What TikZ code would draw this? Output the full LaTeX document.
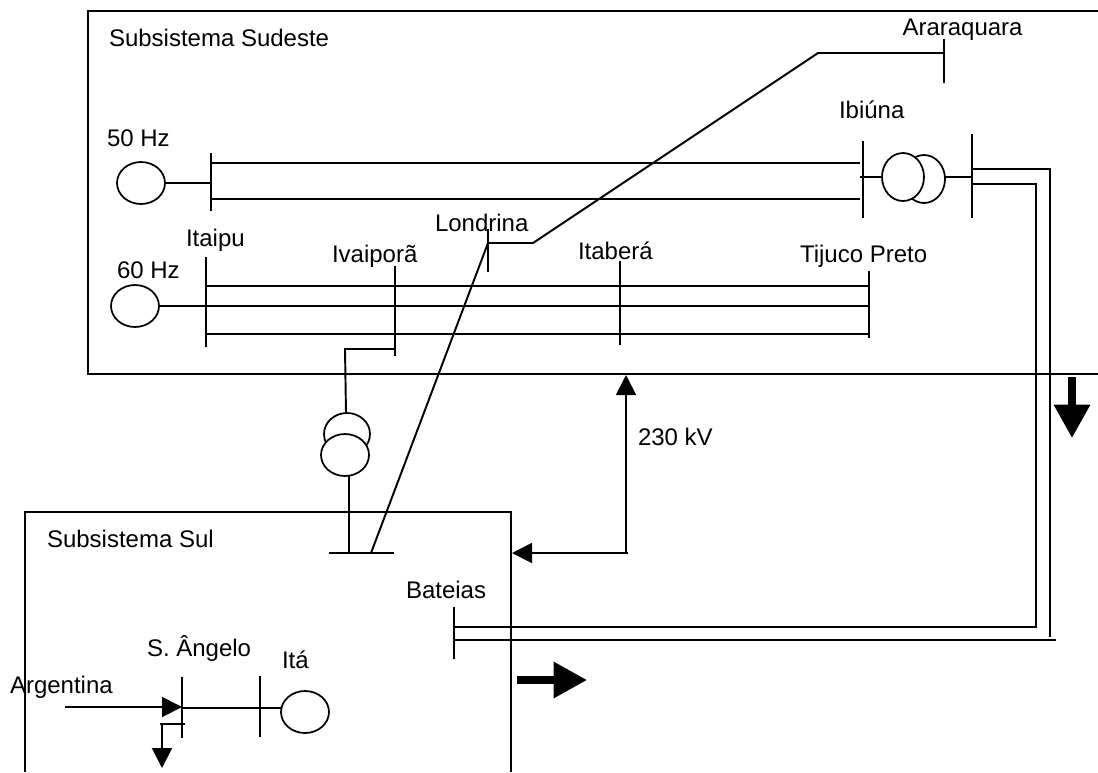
\documentclass[tikz,border=0pt]{standalone}
\usepackage{fontspec}
\setmainfont{Liberation Sans}
\usetikzlibrary{shapes.geometric,arrows.meta}
\tikzset{
  conn/.style={draw=black,line width=1.45pt,line join=miter},
  busbar/.style={draw=black,line width=1.45pt},
  framebox/.style={draw=black,line width=1.6pt,line join=miter},
  gen/.style={ellipse,draw=black,line width=1.3pt,fill=white,minimum width=36pt,minimum height=31.5pt,inner sep=0pt,outer sep=0pt},
  tfa/.style={ellipse,draw=black,line width=1.3pt,fill=white,minimum width=31.5pt,minimum height=36pt,inner sep=0pt,outer sep=0pt},
  lab/.style={anchor=base west,inner sep=0pt,outer sep=0pt,font=\fontsize{18pt}{20pt}\selectfont,text=black},
  smallhead/.style={-{Triangle[length=15pt,width=15pt]}},
  bighead/.style={-{Triangle[length=25pt,width=26pt]},line width=5.5pt},
}
\begin{document}
\begin{tikzpicture}[x=0.75pt,y=-0.75pt]
\useasboundingbox (0,0) rectangle (1098,772);
\clip (0,0) rectangle (1098,772);
% frames
\coordinate (sea) at (1098,11);
\coordinate (sen) at (88,11);
\coordinate (ses) at (88,374);
\coordinate (seb) at (1098,374);
\draw[framebox] (sea) -- (sen) -- (ses) -- (seb);
\coordinate (sua) at (25,772);
\coordinate (sub) at (25,512);
\coordinate (suc) at (511,512);
\coordinate (sud) at (511,772);
\draw[framebox] (sua) -- (sub) -- (suc) -- (sud);
% bus ends
\coordinate (b50t) at (211,153); \coordinate (b50b) at (211,211);
\coordinate (ib1t) at (863,141);   \coordinate (ib1b) at (863,218);
\coordinate (ib2t) at (972,134);   \coordinate (ib2b) at (972,218);
\coordinate (arat) at (944,39);    \coordinate (arab) at (944,83);
\coordinate (lont) at (488,229);   \coordinate (lonb) at (488,272);
\coordinate (itat) at (206,257);   \coordinate (itab) at (206,347);
\coordinate (ivat) at (395,266); \coordinate (ivab) at (395,356);
\coordinate (ibet) at (620,261);   \coordinate (ibeb) at (620,345);
\coordinate (tijt) at (869,271);   \coordinate (tijb) at (869,338);
\coordinate (baet) at (454,607); \coordinate (baeb) at (454,659);
\coordinate (sult) at (329,553);   \coordinate (sulr) at (394,553);
\coordinate (sant) at (182,677);   \coordinate (sanb) at (182,738);
\coordinate (itat2) at (260,676);  \coordinate (itab2) at (260,737);
\foreach \a/\b in {b50t/b50b,ib1t/ib1b,arat/arab,lont/lonb,itat/itab,ivat/ivab,ibet/ibeb,tijt/tijb,baet/baeb,sult/sulr,sant/sanb,itat2/itab2}
  \draw[busbar] (\a) -- (\b);
\draw[busbar,line width=1.7pt] (ib2t) -- (ib2b);
% machines
\node[gen] (g50) at (141,183) {};
\node[gen] (g60) at (135,306) {};
\node[gen] (gita) at (305,712) {};
\node[tfa] (tib2) at (924,179) {};
\node[tfa] (tib1) at (903,177) {};
\node[gen,minimum width=34.5pt] (tiv2) at (347,434) {};
\node[gen] (tiv1) at (345,455) {};
% 50 Hz lines
\coordinate (l1a) at (211,163); \coordinate (l1b) at (860,163);
\coordinate (l2a) at (211,199); \coordinate (l2b) at (860,199);
\draw[conn] (l1a) -- (l1b);
\draw[conn] (l2a) -- (l2b);
\coordinate (g50e) at (211,183);
\draw[conn] (g50.east) -- (g50e);
\coordinate (ib1l) at (860,177);
\draw[conn] (ib1l) -- (tib1.west);
\coordinate (ib2m) at (972,177);
\draw[conn] (tib2.east |- ib2m) -- (ib2m);
% 60 Hz lines
\coordinate (m1a) at (206,286); \coordinate (m1b) at (869,286);
\coordinate (m2b) at (869,306);
\coordinate (m3a) at (206,334); \coordinate (m3b) at (869,334);
\draw[conn] (m1a) -- (m1b);
\draw[conn] (g60.east) -- (m2b);
\draw[conn] (m3a) -- (m3b);
% Ivaipora to transformer
\coordinate (iv1) at (395,349); \coordinate (iv2) at (345,349); \coordinate (iv3) at (346,413);
\draw[conn] (iv1) -- (iv2) -- (iv3);
\coordinate (tivb) at (349,476); \coordinate (tivc) at (349,553);
\draw[conn] (tivb) -- (tivc);
% Araraquara - Londrina - south bus
\coordinate (ar1) at (944,53); \coordinate (ar2) at (818,53);
\coordinate (lo1) at (533,243); \coordinate (lo2) at (488,243);
\coordinate (su1) at (371,553);
\draw[conn] (ar1) -- (ar2) -- (lo1) -- (lo2) -- (su1);
% HVDC to Bateias
\coordinate (a1) at (972,169); \coordinate (a2) at (1050,169); \coordinate (a3) at (1050,637);
\draw[conn] (a1) -- (a2) -- (a3);
\coordinate (c1) at (972,184); \coordinate (c2) at (1036,184); \coordinate (c3) at (1036,627); \coordinate (c4) at (454,627);
\draw[conn] (c1) -- (c2) -- (c3) -- (c4);
\coordinate (d1) at (454,640); \coordinate (d2) at (1056,640);
\draw[conn] (d1) -- (d2);
% 230 kV
\coordinate (k1) at (626,375); \coordinate (k2) at (628,553); \coordinate (k3) at (512,553); \coordinate (k4) at (626,553);
\draw[conn,smallhead] (k4) -- (k1);
\draw[conn,smallhead] (k2) -- (k3);
% flow arrows
\coordinate (f1) at (517,680); \coordinate (f2) at (587,680);
\draw[bighead] (f1) -- (f2);
\coordinate (f3) at (1072,377); \coordinate (f4) at (1072,438);
\draw[bighead] (f3) -- (f4);
% south-west
\coordinate (ar3) at (65,707); \coordinate (ar4) at (182,707);
\draw[conn,smallhead] (ar3) -- (ar4);
\coordinate (s1) at (182,708);
\coordinate (s2) at (281,708);
\draw[conn] (s1) -- (s2);
\coordinate (h1) at (160,724); \coordinate (h2) at (185,724);
\draw[conn] (h1) -- (h2);
\coordinate (h3) at (162,724); \coordinate (h4) at (162,768);
\draw[conn,smallhead] (h3) -- (h4);
% labels
\node[lab] (tsud) at (109,46) {Subsistema Sudeste};
\node[lab] (t50) at (107,146) {50 Hz};
\node[lab] (tara) at (902.5,35) {Araraquara};
\node[lab] (tibi) at (839,118) {Ibiúna};
\node[lab] (tlon) at (435,231) {Londrina};
\node[lab] (tita) at (186,246) {Itaipu};
\node[lab] (tiva) at (332,262) {Ivaiporã};
\node[lab] (tibe) at (578,259) {Itaberá};
\node[lab] (ttij) at (800,262) {Tijuco Preto};
\node[lab] (t60) at (117,278) {60 Hz};
\node[lab] (t230) at (638,445) {230 kV};
\node[lab] (tsul) at (47,547) {Subsistema Sul};
\node[lab] (tbat) at (406,598) {Bateias};
\node[lab] (tsan) at (147,656) {S. Ângelo};
\node[lab] (titaa) at (282,668) {Itá};
\node[lab] (targ) at (10,693) {Argentina};
\end{tikzpicture}
\end{document}
